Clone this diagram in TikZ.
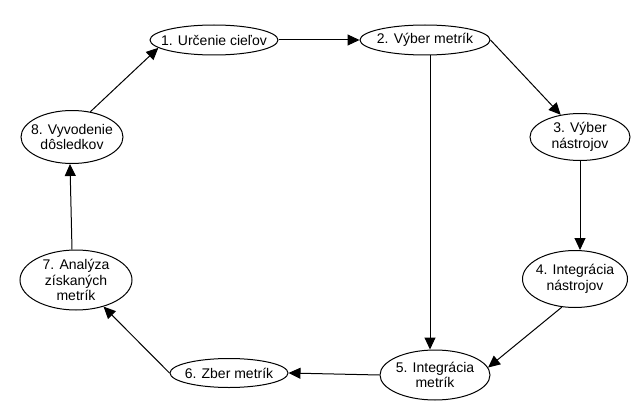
\documentclass[tikz,border=0pt]{standalone}
\usepackage{fontspec}
\setmainfont{Liberation Sans}
\usetikzlibrary{shapes.geometric,arrows.meta}
\begin{document}
\begin{tikzpicture}[x=1pt,y=-1pt,
  stage/.style={draw=black,line width=1pt,ellipse,inner sep=0pt},
  label/.style={inner sep=0pt,align=center,font=\fontsize{14}{15.5}\selectfont},
  flow/.style={draw=black,line width=1pt,-{Triangle[length=12pt,width=11pt]}}]
\useasboundingbox[fill=white] (0,0) rectangle (640,420);
\node[stage,minimum width=128pt,minimum height=30pt] (n1) at (214,40) {};
\node[stage,minimum width=130pt,minimum height=30pt] (n2) at (425,40) {};
\node[stage,minimum width=100pt,minimum height=47pt] (n3) at (580,137) {};
\node[stage,minimum width=105pt,minimum height=57pt] (n4) at (575,279) {};
\node[stage,minimum width=110pt,minimum height=50pt] (n5) at (435,375) {};
\node[stage,minimum width=118pt,minimum height=29pt] (n6) at (229,373) {};
\node[stage,minimum width=112pt,minimum height=60pt] (n7) at (76,280) {};
\node[stage,minimum width=102pt,minimum height=53pt] (n8) at (72,137) {};
\node[label] (t1) at (n1) {1. Určenie cieľov};
\node[label] (t2) at (n2) {2. Výber metrík};
\node[label] (t3) at (n3) {3. Výber\\nástrojov};
\node[label] (t4) at (n4) {4. Integrácia\\nástrojov};
\node[label] (t5) at (n5) {5. Integrácia\\metrík};
\node[label] (t6) at (n6) {6. Zber metrík};
\node[label] (t7) at (n7) {7. Analýza\\získaných\\metrík};
\node[label] (t8) at (n8) {8. Vyvodenie\\dôsledkov};
\draw[flow] (n1.east) -- (n2.west);
\draw[flow] (n2.east) -- (n3.131);
\draw[flow] ([xshift=5pt]n2.south) -- ([xshift=-5pt]n5.north);
\draw[flow] (n3.south) -- (n3.south |- n4.north);
\draw[flow] (n4.245) -- (n5.8);
\draw[flow] (n5.west) -- (n6.east);
\draw[flow] (n6.west) -- (n7.316);
\draw[flow] ([xshift=-4pt]n7.north) -- ([xshift=-2pt]n8.south);
\draw[flow] (n8.54) -- (n1.188);
\end{tikzpicture}
\end{document}
